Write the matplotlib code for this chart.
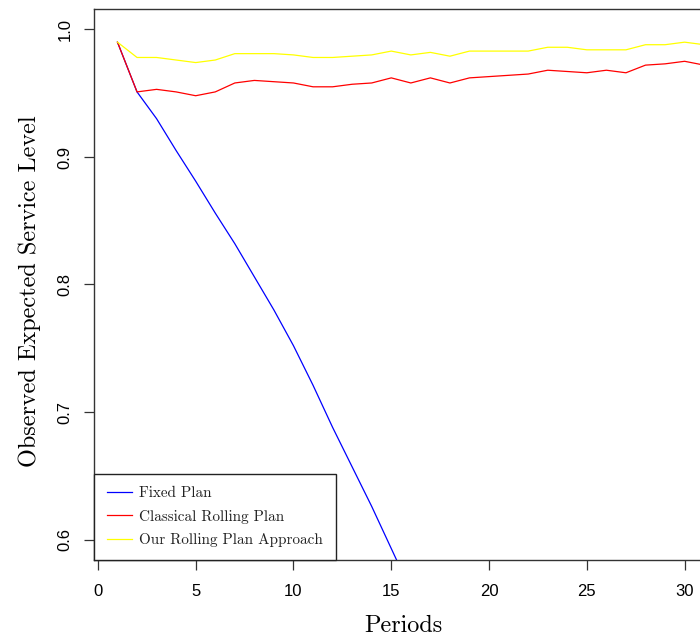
import matplotlib
matplotlib.use("Agg")
import matplotlib.pyplot as plt
from matplotlib import font_manager

periods = list(range(1, 32))
fixed_plan = [0.990, 0.951, 0.930, 0.905, 0.881, 0.856, 0.832, 0.806, 0.780, 0.752,
              0.721, 0.688, 0.657, 0.626, 0.593, 0.560, 0.527]
classical_rolling = [0.990, 0.951, 0.953, 0.951, 0.948, 0.951, 0.958, 0.960, 0.959, 0.958,
                     0.955, 0.955, 0.957, 0.958, 0.962, 0.958, 0.962, 0.958, 0.962, 0.963,
                     0.964, 0.965, 0.968, 0.967, 0.966, 0.968, 0.966, 0.972, 0.973, 0.975,
                     0.972]
our_rolling = [0.990, 0.978, 0.978, 0.976, 0.974, 0.976, 0.981, 0.981, 0.981, 0.980,
               0.978, 0.978, 0.979, 0.980, 0.983, 0.980, 0.982, 0.979, 0.983, 0.983,
               0.983, 0.983, 0.986, 0.986, 0.984, 0.984, 0.984, 0.988, 0.988, 0.990,
               0.988]
series_labels = ["Fixed Plan", "Classical Rolling Plan", "Our Rolling Plan Approach"]
x_ticks = [0, 5, 10, 15, 20, 25, 30]
y_ticks = [0.6, 0.7, 0.8, 0.9, 1.0]

names = {f.name for f in font_manager.fontManager.ttflist}
tick_font = ["Liberation Sans Narrow"] if "Liberation Sans Narrow" in names else ["Liberation Sans"]
serif_font = ["cmr10", "DejaVu Serif"]
plt.rcParams["axes.formatter.use_mathtext"] = True

W, H = 700, 638
fig = plt.figure(figsize=(W / 100, H / 100), dpi=100)
left, right, top, bottom = 94, 712, 9, 560
ax = fig.add_axes([left / W, 1 - bottom / H, (right - left) / W, (bottom - top) / H])

ax.plot(periods[:len(fixed_plan)], fixed_plan, color="blue", lw=0.9, label=series_labels[0])
ax.plot(periods, classical_rolling, color="red", lw=0.9, label=series_labels[1])
ax.plot(periods, our_rolling, color="yellow", lw=0.9, label=series_labels[2])

ax.set_xlim(-0.2, 31.4)
ax.set_ylim(0.584, 1.016)
ax.set_xticks(x_ticks)
ax.set_yticks(y_ticks)
ax.set_xticklabels([str(v) for v in x_ticks], family=tick_font, fontsize=12)
ax.set_yticklabels([f"{v:.1f}" for v in y_ticks], family=tick_font, fontsize=12,
                   rotation=90, va="center")
ax.tick_params(axis="both", direction="out", length=7, width=0.9, color="#333333")
ax.tick_params(axis="x", pad=10.5)
ax.tick_params(axis="y", pad=8.5)
for s in ax.spines.values():
    s.set_color("#333333")
    s.set_linewidth(1.0)

ax.set_xlabel("Periods", family=serif_font, fontsize=17.5, labelpad=11)
ax.set_ylabel("Observed Expected Service Level", family=serif_font, fontsize=17.5, labelpad=12)
ax.yaxis.label.set_y(0.487)

leg = ax.legend(loc="lower left", bbox_to_anchor=(0, 0), borderaxespad=0,
                fancybox=False, edgecolor="#222222", framealpha=1,
                prop={"family": serif_font, "size": 10.9},
                handlelength=1.68, handletextpad=0.45, labelspacing=0.62,
                borderpad=0.85)
leg.get_frame().set_linewidth(1.0)
for t in leg.get_texts():
    t.set_color("#222222")

fig.savefig("out.png", dpi=100)
